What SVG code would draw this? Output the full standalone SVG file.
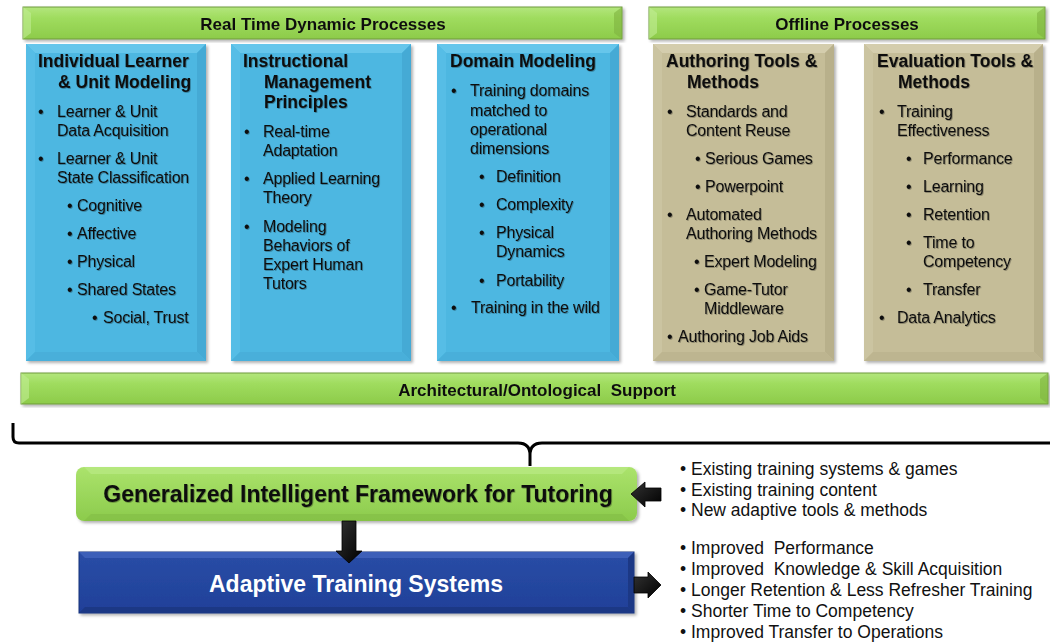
<svg xmlns="http://www.w3.org/2000/svg" width="1050" height="643" viewBox="0 0 1050 643">
<defs>
  <linearGradient id="gBar" x1="0" y1="0" x2="0" y2="1">
    <stop offset="0" stop-color="#B3E67D"/>
    <stop offset="0.35" stop-color="#9FDC5E"/>
    <stop offset="1" stop-color="#8DCB4A"/>
  </linearGradient>
  <linearGradient id="gGift" x1="0" y1="0" x2="0" y2="1">
    <stop offset="0" stop-color="#ABE36C"/>
    <stop offset="1" stop-color="#8CCB4C"/>
  </linearGradient>
  <linearGradient id="gAts" x1="0" y1="0" x2="0" y2="1">
    <stop offset="0" stop-color="#2A4DA6"/>
    <stop offset="1" stop-color="#1F4099"/>
  </linearGradient>
  <linearGradient id="gArrow" x1="0" y1="0" x2="1" y2="1">
    <stop offset="0" stop-color="#333"/>
    <stop offset="1" stop-color="#000"/>
  </linearGradient>
  <filter id="shadow" x="-10%" y="-10%" width="120%" height="120%">
    <feDropShadow dx="2" dy="2" stdDeviation="1.8" flood-color="#000" flood-opacity="0.3"/>
  </filter>
  <filter id="tshadow" x="-5%" y="-20%" width="110%" height="140%">
    <feDropShadow dx="0.8" dy="0.8" stdDeviation="0.7" flood-color="#000" flood-opacity="0.35"/>
  </filter>
</defs>
<style>
  text { font-family: "Liberation Sans", Arial, sans-serif; fill: #111; }
  .bar { font-size: 17px; font-weight: bold; text-anchor: middle; }
  .hd { font-size: 17.5px; font-weight: bold; }
  .bt { font-size: 16px; letter-spacing: -0.2px; }
  .rt { font-size: 17.5px; }
  .big { font-size: 23px; font-weight: bold; text-anchor: middle; }
  .blue { fill: #4DB7E1; }
  .blueT { fill: #66C6EB; }
  .blueL { fill: #57BDE6; }
  .blueR { fill: #44AAD5; }
  .blueB { fill: #48AFDA; }
  .tan { fill: #C5BD98; }
  .tanT { fill: #D4CDAD; }
  .tanL { fill: #CBC4A1; }
  .tanR { fill: #B8B08B; }
  .tanB { fill: #BDB590; }
  .barbox { fill: url(#gBar); stroke: #6F9A3C; stroke-width: 1; }
  .bevD { fill: #7FB33F; opacity: 0.6; }
  .bevL { fill: #C2EC94; opacity: 0.6; }
  .txtg { filter: url(#tshadow); }
  .arrow { fill: url(#gArrow); stroke: #000; stroke-width: 0.8; }
</style>

<!-- Top bars -->
<g id="bar-realtime" filter="url(#shadow)">
  <rect class="barbox" x="23" y="7" width="599" height="32"/>
  <polygon class="bevL" points="23,7 31,13 31,33 23,39"/>
  <polygon class="bevD" points="622,7 614,13 614,33 622,39"/>
  <text class="bar" x="323" y="30">Real Time Dynamic Processes</text>
</g>
<g id="bar-offline" filter="url(#shadow)">
  <rect class="barbox" x="649" y="7" width="396" height="32"/>
  <polygon class="bevL" points="649,7 657,13 657,33 649,39"/>
  <polygon class="bevD" points="1045,7 1037,13 1037,33 1045,39"/>
  <text class="bar" x="847" y="30">Offline Processes</text>
</g>

<!-- Box 1 -->
<g id="box-learner">
  <g filter="url(#shadow)">
    <rect class="blue" x="26" y="44" width="180" height="317"/>
    <polygon class="blueT" points="26,44 206,44 197,53 35,53"/>
    <polygon class="blueL" points="26,44 35,53 35,352 26,361"/>
    <polygon class="blueR" points="206,44 206,361 197,352 197,53"/>
    <polygon class="blueB" points="26,361 206,361 197,352 35,352"/>
  </g>
  <g class="txtg">
    <text class="hd" x="38" y="67">Individual Learner</text>
    <text class="hd" x="58" y="88">&amp; Unit Modeling</text>
    <text class="bt" x="38" y="117">•</text>
    <text class="bt" x="57" y="117">Learner &amp; Unit</text>
    <text class="bt" x="57" y="136">Data Acquisition</text>
    <text class="bt" x="38" y="164">•</text>
    <text class="bt" x="57" y="164">Learner &amp; Unit</text>
    <text class="bt" x="57" y="183">State Classification</text>
    <text class="bt" x="67" y="211">•</text>
    <text class="bt" x="77" y="211">Cognitive</text>
    <text class="bt" x="67" y="239">•</text>
    <text class="bt" x="77" y="239">Affective</text>
    <text class="bt" x="67" y="267">•</text>
    <text class="bt" x="77" y="267">Physical</text>
    <text class="bt" x="67" y="295">•</text>
    <text class="bt" x="77" y="295">Shared States</text>
    <text class="bt" x="92" y="323">•</text>
    <text class="bt" x="103" y="323">Social, Trust</text>
  </g>
</g>

<!-- Box 2 -->
<g id="box-instructional">
  <g filter="url(#shadow)">
    <rect class="blue" x="231" y="44" width="180" height="317"/>
    <polygon class="blueT" points="231,44 411,44 402,53 240,53"/>
    <polygon class="blueL" points="231,44 240,53 240,352 231,361"/>
    <polygon class="blueR" points="411,44 411,361 402,352 402,53"/>
    <polygon class="blueB" points="231,361 411,361 402,352 240,352"/>
  </g>
  <g class="txtg">
    <text class="hd" x="243" y="67">Instructional</text>
    <text class="hd" x="264" y="88">Management</text>
    <text class="hd" x="264" y="108">Principles</text>
    <text class="bt" x="244" y="137">•</text>
    <text class="bt" x="263" y="137">Real-time</text>
    <text class="bt" x="263" y="156">Adaptation</text>
    <text class="bt" x="244" y="184">•</text>
    <text class="bt" x="263" y="184">Applied Learning</text>
    <text class="bt" x="263" y="203">Theory</text>
    <text class="bt" x="244" y="232">•</text>
    <text class="bt" x="263" y="232">Modeling</text>
    <text class="bt" x="263" y="251">Behaviors of</text>
    <text class="bt" x="263" y="270">Expert Human</text>
    <text class="bt" x="263" y="289">Tutors</text>
  </g>
</g>

<!-- Box 3 -->
<g id="box-domain">
  <g filter="url(#shadow)">
    <rect class="blue" x="437" y="44" width="182" height="317"/>
    <polygon class="blueT" points="437,44 619,44 610,53 446,53"/>
    <polygon class="blueL" points="437,44 446,53 446,352 437,361"/>
    <polygon class="blueR" points="619,44 619,361 610,352 610,53"/>
    <polygon class="blueB" points="437,361 619,361 610,352 446,352"/>
  </g>
  <g class="txtg">
    <text class="hd" x="450" y="67">Domain Modeling</text>
    <text class="bt" x="451" y="96">•</text>
    <text class="bt" x="470" y="96">Training domains</text>
    <text class="bt" x="470" y="116">matched to</text>
    <text class="bt" x="470" y="135">operational</text>
    <text class="bt" x="470" y="154">dimensions</text>
    <text class="bt" x="479" y="182">•</text>
    <text class="bt" x="496" y="182">Definition</text>
    <text class="bt" x="479" y="210">•</text>
    <text class="bt" x="496" y="210">Complexity</text>
    <text class="bt" x="479" y="238">•</text>
    <text class="bt" x="496" y="238">Physical</text>
    <text class="bt" x="496" y="257">Dynamics</text>
    <text class="bt" x="479" y="286">•</text>
    <text class="bt" x="496" y="286">Portability</text>
    <text class="bt" x="451" y="313">•</text>
    <text class="bt" x="471" y="313">Training in the wild</text>
  </g>
</g>

<!-- Box 4 -->
<g id="box-authoring">
  <g filter="url(#shadow)">
    <rect class="tan" x="653" y="44" width="181" height="317"/>
    <polygon class="tanT" points="653,44 834,44 825,53 662,53"/>
    <polygon class="tanL" points="653,44 662,53 662,352 653,361"/>
    <polygon class="tanR" points="834,44 834,361 825,352 825,53"/>
    <polygon class="tanB" points="653,361 834,361 825,352 662,352"/>
  </g>
  <g class="txtg">
    <text class="hd" x="666" y="67">Authoring Tools &amp;</text>
    <text class="hd" x="687" y="88">Methods</text>
    <text class="bt" x="667" y="117">•</text>
    <text class="bt" x="686" y="117">Standards and</text>
    <text class="bt" x="686" y="136">Content Reuse</text>
    <text class="bt" x="695" y="164">•</text>
    <text class="bt" x="705" y="164">Serious Games</text>
    <text class="bt" x="695" y="192">•</text>
    <text class="bt" x="705" y="192">Powerpoint</text>
    <text class="bt" x="667" y="220">•</text>
    <text class="bt" x="686" y="220">Automated</text>
    <text class="bt" x="686" y="239">Authoring Methods</text>
    <text class="bt" x="694" y="267">•</text>
    <text class="bt" x="704" y="267">Expert Modeling</text>
    <text class="bt" x="694" y="295">•</text>
    <text class="bt" x="704" y="295">Game-Tutor</text>
    <text class="bt" x="704" y="314">Middleware</text>
    <text class="bt" x="667" y="342">•</text>
    <text class="bt" x="678" y="342">Authoring Job Aids</text>
  </g>
</g>

<!-- Box 5 -->
<g id="box-evaluation">
  <g filter="url(#shadow)">
    <rect class="tan" x="864" y="44" width="179" height="317"/>
    <polygon class="tanT" points="864,44 1043,44 1034,53 873,53"/>
    <polygon class="tanL" points="864,44 873,53 873,352 864,361"/>
    <polygon class="tanR" points="1043,44 1043,361 1034,352 1034,53"/>
    <polygon class="tanB" points="864,361 1043,361 1034,352 873,352"/>
  </g>
  <g class="txtg">
    <text class="hd" x="877" y="67">Evaluation Tools &amp;</text>
    <text class="hd" x="898" y="88">Methods</text>
    <text class="bt" x="879" y="117">•</text>
    <text class="bt" x="897" y="117">Training</text>
    <text class="bt" x="897" y="136">Effectiveness</text>
    <text class="bt" x="906" y="164">•</text>
    <text class="bt" x="923" y="164">Performance</text>
    <text class="bt" x="906" y="192">•</text>
    <text class="bt" x="923" y="192">Learning</text>
    <text class="bt" x="906" y="220">•</text>
    <text class="bt" x="923" y="220">Retention</text>
    <text class="bt" x="906" y="248">•</text>
    <text class="bt" x="923" y="248">Time to</text>
    <text class="bt" x="923" y="267">Competency</text>
    <text class="bt" x="906" y="295">•</text>
    <text class="bt" x="923" y="295">Transfer</text>
    <text class="bt" x="879" y="323">•</text>
    <text class="bt" x="897" y="323">Data Analytics</text>
  </g>
</g>

<!-- Architectural bar -->
<g id="bar-architectural" filter="url(#shadow)">
  <rect class="barbox" x="21" y="373" width="1027" height="31"/>
  <polygon class="bevL" points="21,373 29,379 29,398 21,404"/>
  <polygon class="bevD" points="1048,373 1040,379 1040,398 1048,404"/>
  <text class="bar" x="537" y="396" xml:space="preserve">Architectural/Ontological  Support</text>
</g>

<!-- GIFT -->
<g id="node-gift">
  <g filter="url(#shadow)">
    <rect x="76" y="467" width="561" height="54" rx="8" fill="url(#gGift)"/>
    <polygon points="84,467 629,467 622,474 91,474" fill="#B9E985" opacity="0.7"/>
    <polygon points="91,514 622,514 629,521 84,521" fill="#82BD44" opacity="0.6"/>
  </g>
  <text class="big" x="358" y="502" style="filter:url(#tshadow)">Generalized Intelligent Framework for Tutoring</text>
</g>

<!-- ATS -->
<g id="node-ats">
  <g filter="url(#shadow)">
    <rect x="79" y="552" width="555" height="61" fill="url(#gAts)" stroke="#17327A" stroke-width="1"/>
    <polygon points="79,552 634,552 628,558 85,558" fill="#3C5FB8"/>
    <polygon points="79,613 634,613 628,607 85,607" fill="#1A3785"/>
    <polygon points="634,552 634,613 628,607 628,558" fill="#1A3785"/>
  </g>
  <text class="big" x="356" y="592" style="fill:#fff">Adaptive Training Systems</text>
</g>

<!-- Input / output lists -->
<g id="list-inputs">
  <text class="rt" x="680" y="475">• Existing training systems &amp; games</text>
  <text class="rt" x="680" y="496">• Existing training content</text>
  <text class="rt" x="680" y="516">• New adaptive tools &amp; methods</text>
</g>
<g id="list-outcomes">
  <text class="rt" x="680" y="554" xml:space="preserve">• Improved  Performance</text>
  <text class="rt" x="680" y="575" xml:space="preserve">• Improved  Knowledge &amp; Skill Acquisition</text>
  <text class="rt" x="680" y="596">• Longer Retention &amp; Less Refresher Training</text>
  <text class="rt" x="680" y="617">• Shorter Time to Competency</text>
  <text class="rt" x="680" y="638">• Improved Transfer to Operations</text>
</g>

<!-- Connectors -->
<g id="connectors">
  <path d="M13,423 V437 Q13,443 19,443 H518 Q530,443 530,455 V466 M530,455 Q530,443 542,443 H1050" fill="none" stroke="#000" stroke-width="3"/>
  <polygon class="arrow" points="342,521 356,521 356,551 362,551 349,563 336,551 342,551"/>
  <polygon class="arrow" points="661,488 645,488 645,482 631,494 645,507 645,501 661,501"/>
  <polygon class="arrow" points="634,577 648,577 648,572 661,585 648,598 648,593 634,593"/>
</g>
</svg>
